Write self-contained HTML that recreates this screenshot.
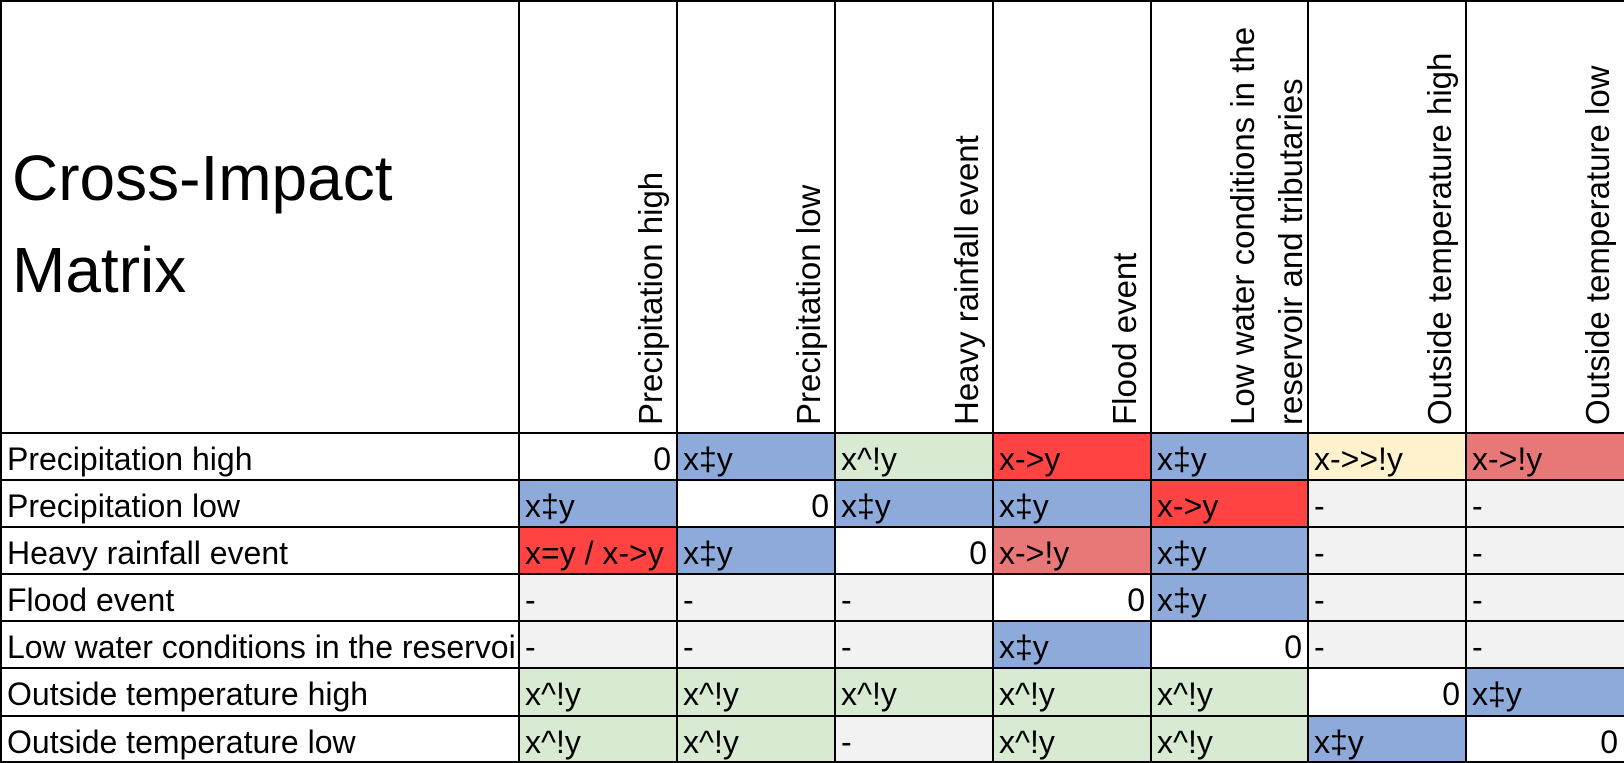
<!DOCTYPE html>
<html><head><meta charset="utf-8"><style>
body{margin:0;width:1624px;height:763px;overflow:hidden;background:#fff;font-family:"Liberation Sans",sans-serif;color:#000;position:relative}
.c{position:absolute;height:47px;box-sizing:border-box;font-size:32px;line-height:47px;padding:3px 6px 0 6px;white-space:nowrap;overflow:hidden}
.r{text-align:right}
.h{position:absolute;top:425px;white-space:nowrap;transform-origin:0 0;transform:rotate(-90deg);font-size:33px;line-height:31px}
.v{position:absolute;top:0;width:2px;height:763px;background:#000}
.hl{position:absolute;left:0;height:2px;width:1624px;background:#000}
.B{background:#8eaadb}.G{background:#d9ead3}.R{background:#ff4343}.P{background:#e87878}.Y{background:#fff2cc}.S{background:#f2f2f2}.W{background:#fff}
</style></head><body>
<div style="position:absolute;left:12px;top:132px;font-size:64px;line-height:92px;white-space:nowrap">Cross-Impact<br>Matrix</div>

<div class="h" style="left:635px">Precipitation high</div>
<div class="h" style="left:793px">Precipitation low</div>
<div class="h" style="left:951px">Heavy rainfall event</div>
<div class="h" style="left:1109px">Flood event</div>
<div class="h" style="left:1219px;line-height:48px">Low water conditions in the<br>reservoir and tributaries</div>
<div class="h" style="left:1424px">Outside temperature high</div>
<div class="h" style="left:1582px">Outside temperature low</div>

<div id="cells"></div>
<script>
var cols=[0,519,677,835,993,1151,1308,1466,1624];
var rows=[433,480,527,574,621,668,716];
var labels=["Precipitation high","Precipitation low","Heavy rainfall event","Flood event","Low water conditions in the reservoir and tributaries","Outside temperature high","Outside temperature low"];
var g="S -";
var d=[
["Z","B x‡y","G x^!y","R x->y","B x‡y","Y x->>!y","P x->!y"],
["B x‡y","Z","B x‡y","B x‡y","R x->y",g,g],
["R x=y / x->y","B x‡y","Z","P x->!y","B x‡y",g,g],
[g,g,g,"Z","B x‡y",g,g],
[g,g,g,"B x‡y","Z",g,g],
["G x^!y","G x^!y","G x^!y","G x^!y","G x^!y","Z","B x‡y"],
["G x^!y","G x^!y",g,"G x^!y","G x^!y","B x‡y","Z"]];
var h="";
for(var i=0;i<7;i++){
 h+='<div class="c W" style="left:0;top:'+rows[i]+'px;width:519px;padding-left:7px">'+labels[i]+'</div>';
 for(var j=0;j<7;j++){
  var s=d[i][j],l=cols[j+1],w=cols[j+2]-l;
  if(s=="Z")h+='<div class="c W r" style="left:'+l+'px;top:'+rows[i]+'px;width:'+w+'px">0</div>';
  else{var k=s[0],t=s.slice(2).replace(/&/g,"&amp;").replace(/>/g,"&gt;").replace(/</g,"&lt;");
  h+='<div class="c '+k+'" style="left:'+l+'px;top:'+rows[i]+'px;width:'+w+'px">'+t+'</div>';}
 }
}
for(var j=0;j<8;j++)h+='<div class="v" style="left:'+(cols[j]==0?0:cols[j]-1)+'px"></div>';
h+='<div class="hl" style="top:0"></div>';
for(var i=0;i<7;i++)h+='<div class="hl" style="top:'+(rows[i]-1)+'px"></div>';
h+='<div class="hl" style="top:761px"></div>';
document.getElementById("cells").innerHTML=h;
</script>
</body></html>
